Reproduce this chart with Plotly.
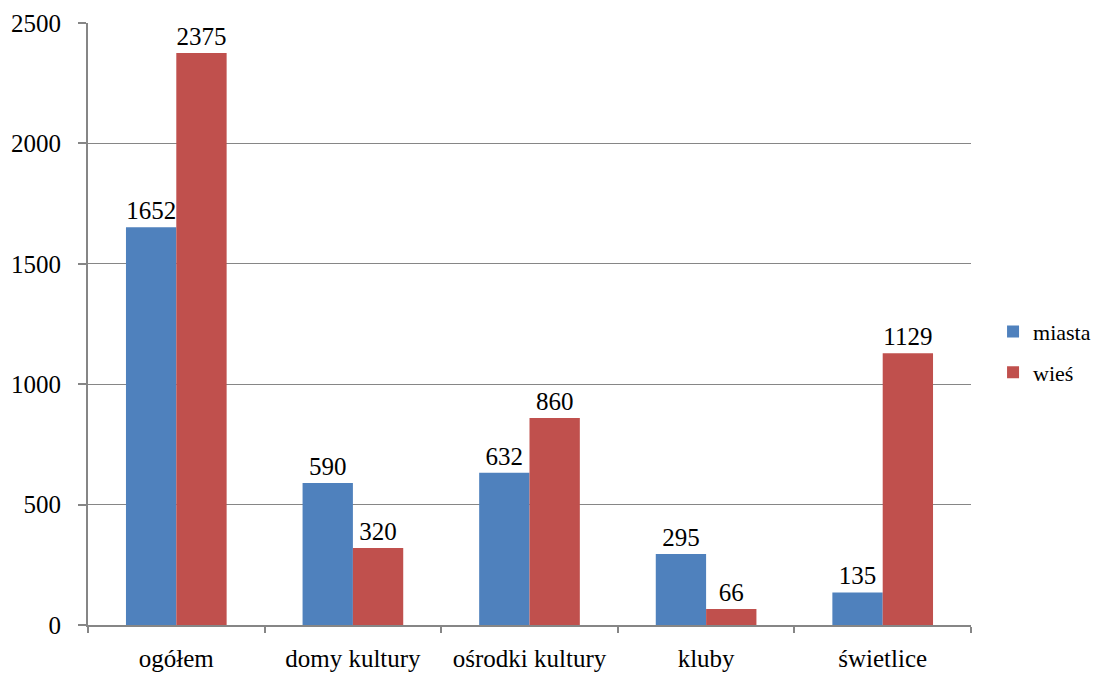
import plotly.graph_objects as go

categories = ["ogółem", "domy kultury", "ośrodki kultury", "kluby", "świetlice"]
miasta = [1652, 590, 632, 295, 135]
wies = [2375, 320, 860, 66, 1129]
series_names = ["miasta", "wieś"]

font = "Liberation Serif, Tinos, Times New Roman, DejaVu Serif, serif"

fig = go.Figure()
fig.add_trace(go.Bar(name=series_names[0], x=categories, y=miasta,
                     legendgroup="a",
                     marker=dict(color="#4F81BD", line=dict(width=0)),
                     text=[str(v) for v in miasta], textposition="outside",
                     textfont=dict(family=font, size=25, color="black"),
                     cliponaxis=False))
fig.add_trace(go.Bar(name=series_names[1], x=categories, y=wies,
                     legendgroup="b",
                     marker=dict(color="#C0504D", line=dict(width=0)),
                     text=[str(v) for v in wies], textposition="outside",
                     textfont=dict(family=font, size=25, color="black"),
                     cliponaxis=False))

fig.update_layout(
    width=1100, height=675,
    margin=dict(l=80, r=137, t=15, b=58),
    paper_bgcolor="white", plot_bgcolor="white",
    barmode="group", bargap=0.43, bargroupgap=0,
    font=dict(family=font, size=25, color="black"),
    legend=dict(xref="container", yref="container", x=0.8955, y=0.49,
                xanchor="left", yanchor="middle",
                font=dict(family=font, size=22), tracegroupgap=9,
                itemsizing="constant", itemwidth=30),
    xaxis=dict(showline=True, linecolor="#868686", linewidth=2,
               ticks="outside", tickson="boundaries", ticklen=6,
               tickcolor="#868686", tickwidth=2, showgrid=False,
               automargin=False, ticklabelstandoff=10,
               tickfont=dict(family=font, size=25)),
    yaxis=dict(range=[0, 2500], dtick=500, showline=True,
               linecolor="#868686", linewidth=2, ticks="outside",
               ticklen=8, tickcolor="#868686", tickwidth=2,
               showgrid=True, gridcolor="#868686", gridwidth=1,
               zeroline=False, automargin=False, ticklabelstandoff=12,
               tickfont=dict(family=font, size=25)),
)

fig.write_html("out.html")
